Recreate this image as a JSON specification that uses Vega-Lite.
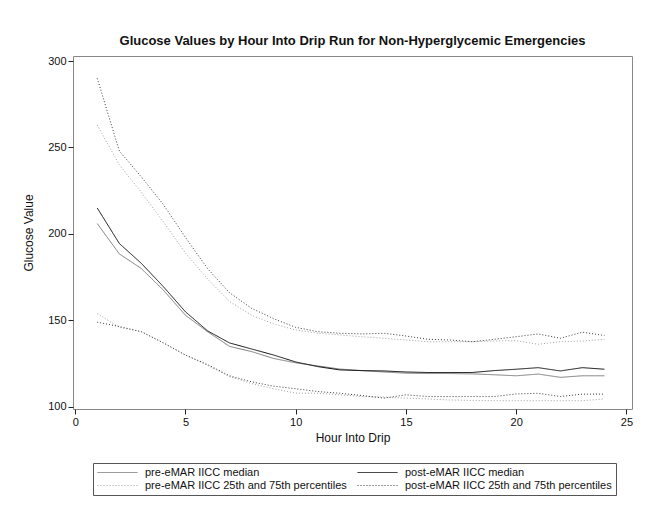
{
  "$schema": "https://vega.github.io/schema/vega-lite/v6.json",
  "width": 559,
  "height": 353,
  "autosize": {"type": "none"},
  "padding": {"left": 73, "top": 56, "right": 13, "bottom": 103},
  "background": "white",
  "title": {
    "text": "Glucose Values by Hour Into Drip Run for Non-Hyperglycemic Emergencies",
    "font": "Liberation Sans",
    "fontSize": 13,
    "fontWeight": "bold",
    "color": "#111111",
    "anchor": "middle",
    "offset": 7
  },
  "datasets": {
    "vals": [
      {"h": 1, "post75": 290, "pre75": 263, "postMed": 215, "preMed": 206, "post25": 149, "pre25": 154},
      {"h": 2, "post75": 248, "pre75": 240, "postMed": 194.5, "preMed": 188.5, "post25": 146.5, "pre25": 146},
      {"h": 3, "post75": 233, "pre75": 224, "postMed": 183, "preMed": 180, "post25": 143.5, "pre25": 143.5},
      {"h": 4, "post75": 217, "pre75": 207, "postMed": 169.5, "preMed": 167.5, "post25": 137, "pre25": 137},
      {"h": 5, "post75": 198, "pre75": 189, "postMed": 155, "preMed": 153, "post25": 130, "pre25": 130},
      {"h": 6, "post75": 180, "pre75": 174, "postMed": 144, "preMed": 143.5, "post25": 124.5, "pre25": 124},
      {"h": 7, "post75": 166, "pre75": 161, "postMed": 137, "preMed": 135, "post25": 118, "pre25": 117.5},
      {"h": 8, "post75": 157, "pre75": 153, "postMed": 133.5, "preMed": 132, "post25": 114.5, "pre25": 113.5},
      {"h": 9, "post75": 151, "pre75": 148, "postMed": 130, "preMed": 128, "post25": 112, "pre25": 110.5},
      {"h": 10, "post75": 146, "pre75": 144.5, "postMed": 126, "preMed": 125.5, "post25": 110.5, "pre25": 108},
      {"h": 11, "post75": 143.5, "pre75": 142.6, "postMed": 123.3, "preMed": 123.7, "post25": 108.9, "pre25": 107.9},
      {"h": 12, "post75": 142.6, "pre75": 141.6, "postMed": 121.4, "preMed": 121.9, "post25": 107.9, "pre25": 107},
      {"h": 13, "post75": 142.2, "pre75": 140.6, "postMed": 121, "preMed": 121, "post25": 106.6, "pre25": 106},
      {"h": 14, "post75": 142.6, "pre75": 139.7, "postMed": 120.8, "preMed": 120.2, "post25": 105.1, "pre25": 105.7},
      {"h": 15, "post75": 141, "pre75": 138.7, "postMed": 120.2, "preMed": 119.5, "post25": 107, "pre25": 105.1},
      {"h": 16, "post75": 139.1, "pre75": 137.7, "postMed": 119.9, "preMed": 119.3, "post25": 106, "pre25": 104.6},
      {"h": 17, "post75": 138.7, "pre75": 137.7, "postMed": 119.9, "preMed": 119.3, "post25": 106, "pre25": 104},
      {"h": 18, "post75": 137.7, "pre75": 137.7, "postMed": 119.9, "preMed": 119.1, "post25": 106, "pre25": 103.8},
      {"h": 19, "post75": 139.1, "pre75": 138.1, "postMed": 121, "preMed": 118.6, "post25": 106, "pre25": 103.6},
      {"h": 20, "post75": 140.6, "pre75": 138.3, "postMed": 121.8, "preMed": 118, "post25": 107.5, "pre25": 103.6},
      {"h": 21, "post75": 142.2, "pre75": 136.2, "postMed": 122.7, "preMed": 119, "post25": 107.9, "pre25": 103.6},
      {"h": 22, "post75": 139.7, "pre75": 137.7, "postMed": 120.8, "preMed": 117.1, "post25": 106, "pre25": 103.6},
      {"h": 23, "post75": 143.2, "pre75": 138.1, "postMed": 122.7, "preMed": 118, "post25": 107.4, "pre25": 103.6},
      {"h": 24, "post75": 141.3, "pre75": 139.1, "postMed": 121.8, "preMed": 118, "post25": 107.4, "pre25": 104.6}
    ],
    "map": [
      {"key": "preMed", "group": "pre-eMAR IICC median"},
      {"key": "postMed", "group": "post-eMAR IICC median"},
      {"key": "pre25", "group": "pre-eMAR IICC 25th and 75th percentiles"},
      {"key": "pre75", "group": "pre-eMAR IICC 25th and 75th percentiles"},
      {"key": "post25", "group": "post-eMAR IICC 25th and 75th percentiles"},
      {"key": "post75", "group": "post-eMAR IICC 25th and 75th percentiles"}
    ]
  },
  "data": {"name": "vals"},
  "transform": [
    {"fold": ["preMed", "postMed", "pre25", "pre75", "post25", "post75"], "as": ["key", "v"]},
    {"lookup": "key", "from": {"data": {"name": "map"}, "key": "key", "fields": ["group"]}}
  ],
  "mark": {"type": "line", "strokeWidth": 1},
  "encoding": {
    "x": {
      "field": "h",
      "type": "quantitative",
      "scale": {"domain": [-0.1, 25.25], "nice": false, "zero": false},
      "axis": {"values": [0, 5, 10, 15, 20, 25], "title": "Hour Into Drip", "titlePadding": 5}
    },
    "y": {
      "field": "v",
      "type": "quantitative",
      "scale": {"domain": [98.8, 302.9], "nice": false, "zero": false},
      "axis": {"values": [100, 150, 200, 250, 300], "title": "Glucose Value", "titlePadding": 12}
    },
    "color": {
      "field": "group",
      "type": "nominal",
      "scale": {
        "domain": ["pre-eMAR IICC median", "post-eMAR IICC median", "pre-eMAR IICC 25th and 75th percentiles", "post-eMAR IICC 25th and 75th percentiles"],
        "range": ["#7a7a7a", "#111111", "#a0a0a0", "#3a3a3a"]
      },
      "legend": {"title": null}
    },
    "strokeDash": {
      "field": "group",
      "type": "nominal",
      "scale": {
        "domain": ["pre-eMAR IICC median", "post-eMAR IICC median", "pre-eMAR IICC 25th and 75th percentiles", "post-eMAR IICC 25th and 75th percentiles"],
        "range": [[1, 0], [1, 0], [1, 2], [1, 2]]
      },
      "legend": {"title": null}
    },
    "detail": {"field": "key"}
  },
  "config": {
    "view": {"stroke": "#888888", "strokeWidth": 1},
    "axis": {
      "domain": false,
      "grid": false,
      "ticks": true,
      "tickSize": 5,
      "tickColor": "#222222",
      "labelFont": "Liberation Sans",
      "labelFontSize": 11,
      "labelColor": "#111111",
      "labelPadding": 2,
      "titleFont": "Liberation Sans",
      "titleFontSize": 12,
      "titleFontWeight": "normal",
      "titleColor": "#111111"
    },
    "legend": {
      "orient": "none",
      "direction": "horizontal",
      "legendX": 20,
      "legendY": 407,
      "columns": 2,
      "columnPadding": 10,
      "rowPadding": 1,
      "symbolType": "stroke",
      "symbolSize": 1600,
      "symbolStrokeWidth": 1,
      "clipHeight": 11,
      "labelFont": "Liberation Sans",
      "labelFontSize": 11,
      "labelColor": "#111111",
      "labelOffset": 7,
      "labelLimit": 400,
      "strokeColor": "#555555",
      "padding": 4
    }
  }
}
